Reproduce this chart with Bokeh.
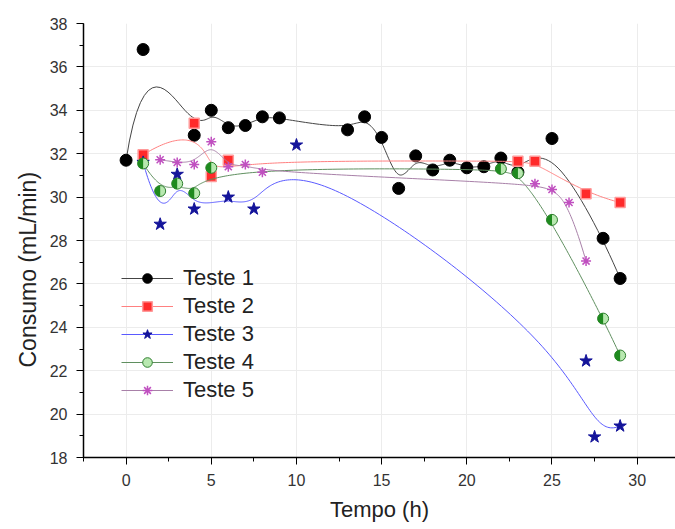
import numpy as np
from bokeh.plotting import figure
from bokeh.models import (Range1d, SingleIntervalTicker, Legend, LegendItem, Title)
from bokeh.embed import file_html
from bokeh.resources import INLINE

# ---------------- data ----------------
t1_x = [0, 1, 4, 5, 6, 7, 8, 9, 13, 14, 15, 16, 17, 18, 19, 20, 21, 22, 23, 25, 28, 29]
t1_y = [31.7, 36.8, 32.85, 34.0, 33.2, 33.3, 33.7, 33.65, 33.1, 33.7, 32.75, 30.4,
        31.9, 31.25, 31.7, 31.35, 31.4, 31.8, 31.15, 32.7, 28.1, 26.25]

t2_x = [1, 4, 5, 6, 23, 24, 27, 29]
t2_y = [31.95, 33.4, 30.95, 31.7, 31.65, 31.65, 30.15, 29.75]

t3_x = [1, 2, 3, 4, 6, 7.5, 10, 27, 27.5, 29]
t3_y = [31.6, 28.75, 31.05, 29.45, 30.0, 29.45, 32.4, 22.45, 18.95, 19.45]

t4_x = [1, 2, 3, 4, 5, 22, 23, 25, 28, 29]
t4_y = [31.55, 30.28, 30.62, 30.18, 31.35, 31.3, 31.1, 28.95, 24.4, 22.7]

t5_x = [2, 3, 4, 5, 6, 7, 8, 24, 25, 26, 27]
t5_y = [31.72, 31.6, 31.5, 32.55, 31.4, 31.5, 31.15, 30.62, 30.35, 29.75, 27.05]

labels = ["Teste 1", "Teste 2", "Teste 3", "Teste 4", "Teste 5"]


def bspline(xs, ys, n=300, k=3):
    """Clamped B-spline connecting line that uses the points as control points."""
    P = np.column_stack([xs, ys]).astype(float)
    m = len(P)
    k = min(k, m - 1)
    knots = np.concatenate([np.zeros(k), np.linspace(0, 1, m - k + 1), np.ones(k)])
    t = np.linspace(0, 1, n)
    t[-1] = 1 - 1e-10
    nb = len(knots) - 1
    N = np.zeros((n, nb))
    for i in range(nb):
        N[:, i] = ((knots[i] <= t) & (t < knots[i + 1])).astype(float)
    for d in range(1, k + 1):
        Nn = np.zeros((n, nb - d))
        for i in range(nb - d):
            a = knots[i + d] - knots[i]
            b = knots[i + d + 1] - knots[i + 1]
            left = (t - knots[i]) / a * N[:, i] if a > 0 else 0
            right = (knots[i + d + 1] - t) / b * N[:, i + 1] if b > 0 else 0
            Nn[:, i] = left + right
        N = Nn
    C = N[:, :m] @ P
    return C[:, 0], C[:, 1]


FONT = "Liberation Sans"

p = figure(width=675, height=529, output_backend="svg", toolbar_location=None,
           x_range=Range1d(-2.5, 32.25), y_range=Range1d(18, 38),
           min_border_left=83, min_border_right=0, min_border_top=23,
           min_border_bottom=72)
p.outline_line_color = None
p.background_fill_color = "white"

for ax in (p.xaxis[0], p.yaxis[0]):
    ax.axis_line_color = "black"
    ax.axis_line_width = 1.5
    ax.major_tick_line_color = "black"
    ax.minor_tick_line_color = "black"
    ax.major_tick_in = 0
    ax.major_tick_out = 7
    ax.minor_tick_in = 0
    ax.minor_tick_out = 4
    ax.major_label_text_font = FONT
    ax.major_label_text_font_size = "16px"
    ax.major_label_text_color = "#333333"
    ax.axis_label_text_font = FONT
    ax.axis_label_text_font_size = "22px"
    ax.axis_label_text_font_style = "normal"
    ax.axis_label_text_color = "#222222"
    ax.major_label_standoff = 9

p.xaxis[0].ticker = SingleIntervalTicker(interval=5, num_minor_ticks=2)
p.yaxis[0].ticker = SingleIntervalTicker(interval=2, num_minor_ticks=2)
p.xaxis[0].axis_label = "Tempo (h)"
p.xaxis[0].axis_label_standoff = 8

p.xgrid.grid_line_color = "#ececec"
p.ygrid.grid_line_color = "#ececec"
p.xgrid.ticker = SingleIntervalTicker(interval=5)
p.ygrid.ticker = SingleIntervalTicker(interval=2)

items = []

# Teste 1
cx, cy = bspline(t1_x, t1_y)
l1 = p.line(cx, cy, line_color="#444444", line_width=1)
s1 = p.scatter(t1_x, t1_y, marker="circle", size=12, fill_color="black", line_color="black")
items.append(LegendItem(label=labels[0], renderers=[l1, s1]))

# Teste 2
cx, cy = bspline(t2_x, t2_y)
l2 = p.line(cx, cy, line_color="#ff8080", line_width=1)
s2 = p.scatter(t2_x, t2_y, marker="square", size=10, fill_color="#ff2a2a",
               line_color="#ff9a9a", line_width=1.5)
items.append(LegendItem(label=labels[1], renderers=[l2, s2]))

# Teste 3
cx, cy = bspline(t3_x, t3_y)
l3 = p.line(cx, cy, line_color="#5a5aff", line_width=1)
s3 = p.scatter(t3_x, t3_y, marker="star", size=13, fill_color="#14149a", line_color="#14149a")
items.append(LegendItem(label=labels[2], renderers=[l3, s3]))

# Teste 4
cx, cy = bspline(t4_x, t4_y)
l4 = p.line(cx, cy, line_color="#5f8f5f", line_width=1)
s4 = p.scatter(t4_x, t4_y, marker="circle", size=11, fill_color="#b8e8b0", line_color="#2f7f2f")
p.wedge(t4_x, t4_y, radius=5.5, radius_units="screen", start_angle=np.pi / 2,
        end_angle=3 * np.pi / 2, fill_color="#1f8a1f", line_color=None)
items.append(LegendItem(label=labels[3], renderers=[l4, s4]))

# Teste 5
cx, cy = bspline(t5_x, t5_y)
l5 = p.line(cx, cy, line_color="#a880a8", line_width=1)
s5 = p.scatter(t5_x, t5_y, marker="asterisk", size=10, line_color="#c050c0", line_width=1.5)
items.append(LegendItem(label=labels[4], renderers=[l5, s5]))

legend = Legend(items=items, location=(38, 54), orientation="vertical",
                border_line_color=None, background_fill_alpha=0,
                padding=0, margin=0, spacing=2, glyph_width=52, glyph_height=24,
                label_standoff=10, label_text_font=FONT, label_text_font_size="22px",
                label_text_color="#222222", label_height=24)
p.add_layout(legend, "center")

ytitle = Title(text="Consumo (mL/min)", align="left", offset=90,
               text_font=FONT, text_font_size="23px", text_font_style="normal",
               text_color="#222222", standoff=11)
p.add_layout(ytitle, "left")

open("out.html", "w").write(file_html(p, INLINE))
